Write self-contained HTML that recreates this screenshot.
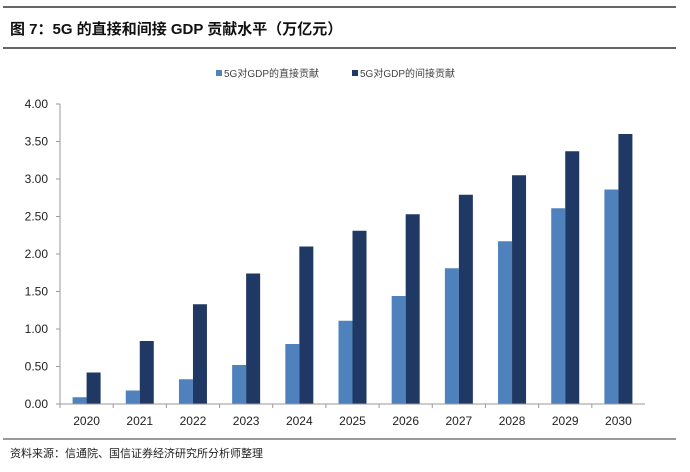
<!DOCTYPE html>
<html><head><meta charset="utf-8"><style>
body{margin:0;background:#fff;width:690px;height:467px;overflow:hidden;font-family:"Liberation Sans","Noto Sans CJK SC",sans-serif}
</style></head><body>
<svg width="690" height="467" xmlns="http://www.w3.org/2000/svg">
<line x1="3" y1="7" x2="676" y2="7" stroke="#333" stroke-width="1.5"/>
<text x="10" y="34" font-size="15" font-weight="bold" fill="#111" font-family="Liberation Sans,Noto Sans CJK SC,sans-serif">图 7：5G 的直接和间接 GDP 贡献水平（万亿元）</text>
<line x1="3" y1="48" x2="676" y2="48" stroke="#333" stroke-width="1.5"/>
<g font-size="10" fill="#444">
<rect x="216" y="70" width="6" height="6" fill="#4f81bd"/>
<text x="224" y="77">5G对GDP的直接贡献</text>
<rect x="352" y="70" width="6" height="6" fill="#1f3864"/>
<text x="360" y="77">5G对GDP的间接贡献</text>
</g>
<g id="plot"></g>
<line x1="3" y1="439" x2="676" y2="439" stroke="#333" stroke-width="1"/>
<text x="10" y="457" font-size="11" fill="#222">资料来源：信通院、国信证券经济研究所分析师整理</text>
</svg>
<script>
const categories=["2020","2021","2022","2023","2024","2025","2026","2027","2028","2029","2030"];
const directValues=[0.09,0.18,0.33,0.52,0.80,1.11,1.44,1.81,2.17,2.61,2.86];
const indirectValues=[0.42,0.84,1.33,1.74,2.10,2.31,2.53,2.79,3.05,3.37,3.60];
const yTicks=[0,0.5,1,1.5,2,2.5,3,3.5,4];
const NS="http://www.w3.org/2000/svg";
const g=document.getElementById('plot');
const x0=60,x1=645,y0=404,yTop=104,yMax=4;
const y=v=>y0-(v/yMax)*(y0-yTop);
const bw=(x1-x0)/categories.length;
const xc=i=>x0+bw*(i+0.5);
function mk(t,a){const e=document.createElementNS(NS,t);for(const k in a)e.setAttribute(k,a[k]);g.appendChild(e);return e;}
yTicks.forEach(v=>{
const t=mk('text',{x:x0-12,y:y(v)+4,'text-anchor':'end','font-size':12,fill:'#222'});
t.textContent=v.toFixed(2);


const l=mk('line',{x1:x0-4,x2:x0,y1:y(v),y2:y(v),stroke:'#999'});


});
categories.forEach((c,i)=>{
const cx=xc(i);
const b1=mk('rect',{x:cx-14,y:y(directValues[i]),width:14,height:y0-y(directValues[i]),fill:'#4f81bd'});


const b2=mk('rect',{x:cx,y:y(indirectValues[i]),width:14,height:y0-y(indirectValues[i]),fill:'#1f3864'});


const t=mk('text',{x:cx,y:y0+21,'text-anchor':'middle','font-size':12,fill:'#222'});
t.textContent=c;


const tk=mk('line',{x1:x0+bw*i,x2:x0+bw*i,y1:y0,y2:y0+4,stroke:'#999'});


});
const ya=mk('line',{x1:x0,x2:x0,y1:yTop,y2:y0,stroke:'#999'});


const xa=mk('line',{x1:x0,x2:x1,y1:y0,y2:y0,stroke:'#999'});


</script>
</body></html>
